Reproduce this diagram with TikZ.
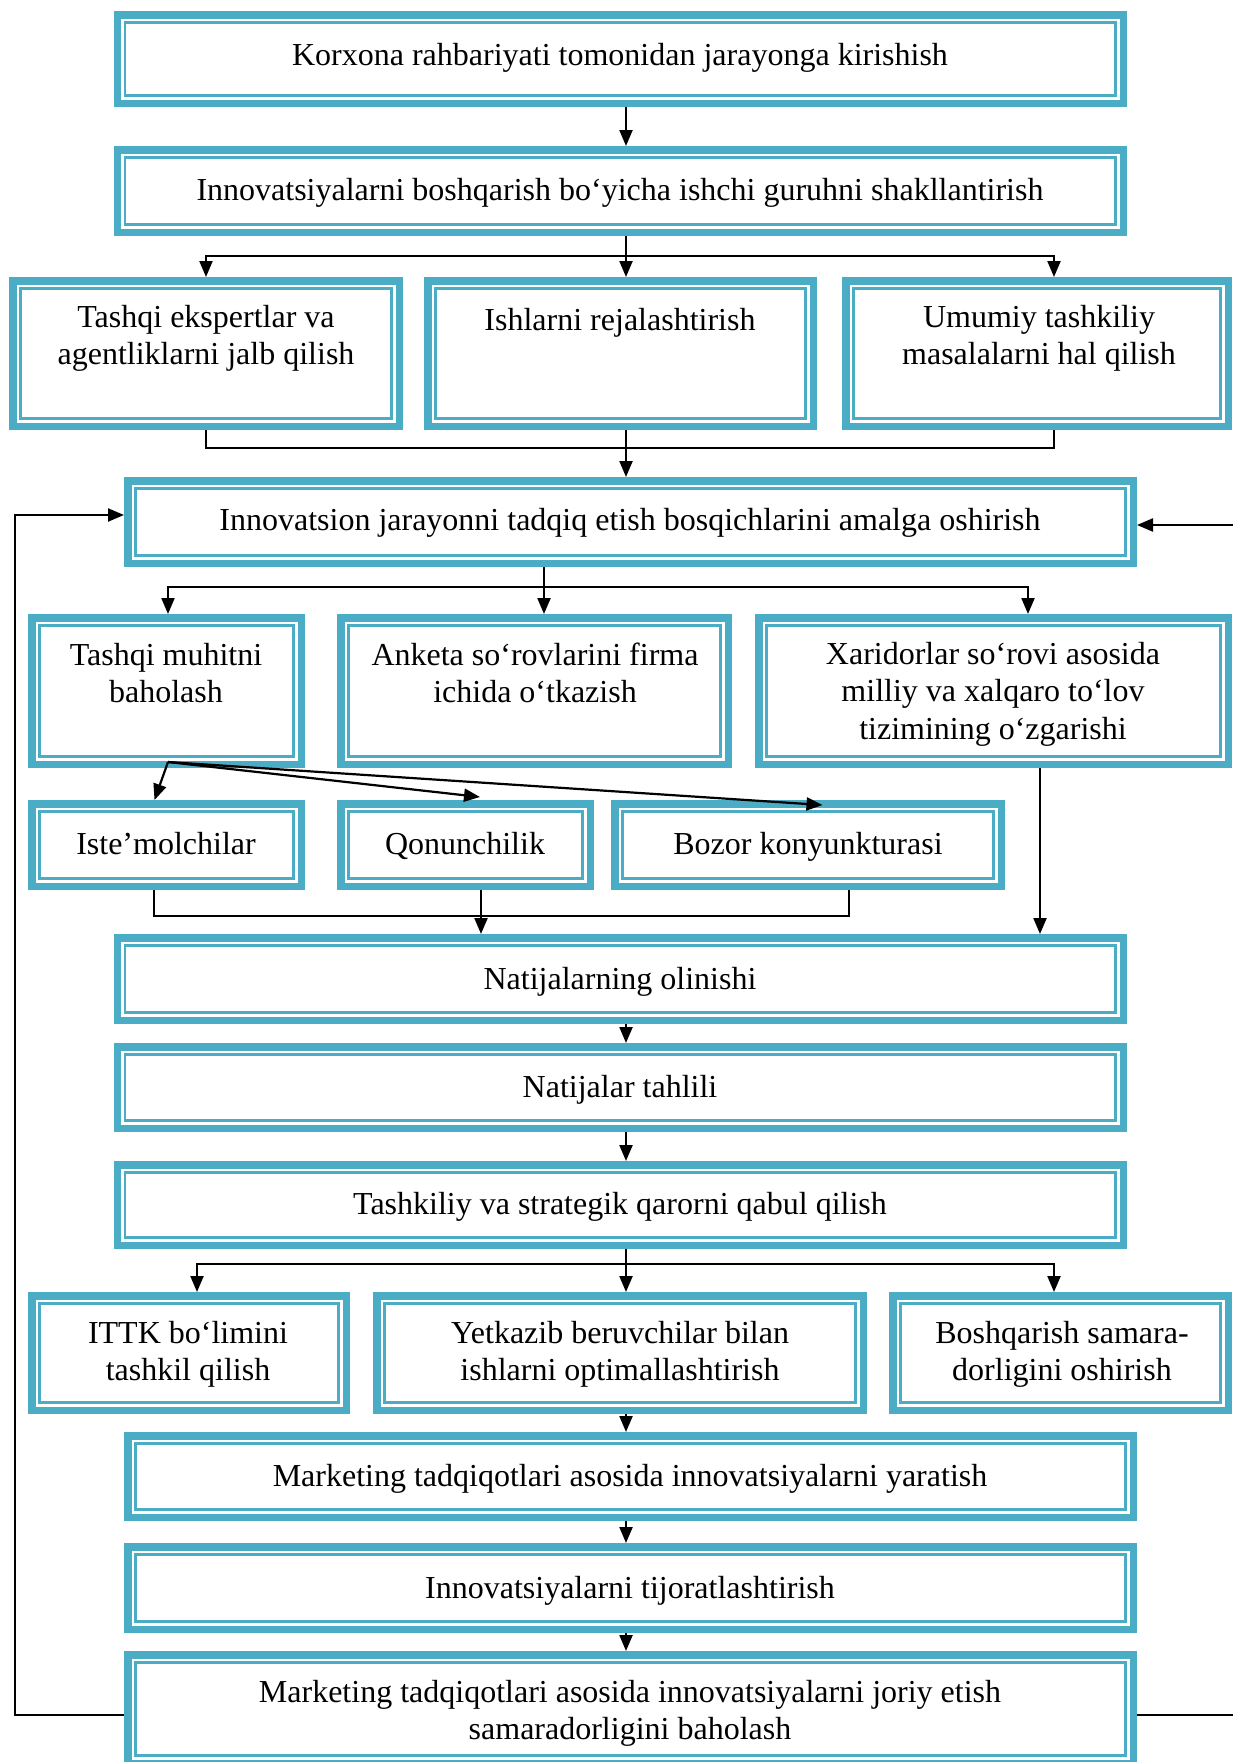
\documentclass[tikz,border=0pt]{standalone}
\usepackage{fontspec}
\setmainfont{Liberation Serif}
\usetikzlibrary{arrows.meta,calc}
\definecolor{boxc}{HTML}{4BACC6}
\tikzset{
  panel/.style={rectangle, draw=boxc, line width=7.5pt, inner sep=0pt, outer sep=3.75pt},
  innerline/.style={draw=boxc, line width=2.5pt},
  txt/.style={align=center, inner sep=0pt, yshift=-3.5pt, font=\fontsize{32}{37.5}\selectfont,
    execute at begin node=\strut, execute at end node=\strut},
  conn/.style={draw=black, line width=2.2pt},
  arr/.style={conn, -{Triangle[length=16pt,width=13pt]}},
}
% double-framed box: name, x1, y1, x2, y2 (outer edges)
\newcommand\panelbox[5]{%
  \node[panel, minimum width={(#4)-(#2)-7.5}, minimum height={(#5)-(#3)-7.5}]
    (#1) at ({((#2)+(#4))/2},{((#3)+(#5))/2}) {};
  \draw[innerline] ([shift={(11.45pt,-11.45pt)}]#1.north west)
    rectangle ([shift={(-11.45pt,11.45pt)}]#1.south east);
}
\begin{document}
\begin{tikzpicture}[x=1pt,y=-1pt]
\useasboundingbox (0,0) rectangle (1233,1762);
\clip (0,0) rectangle (1233,1762);

% boxes
\panelbox{b1}{113.5}{11}{1127}{107}
\panelbox{b2}{113.5}{146}{1127}{236}
\panelbox{b3a}{9}{277}{403}{430}
\panelbox{b3b}{424}{277}{817}{430}
\panelbox{b3c}{842}{277}{1232}{430}
\panelbox{b4}{124}{477}{1137}{567}
\panelbox{b5a}{28}{614}{305}{768}
\panelbox{b5b}{337}{614}{732}{768}
\panelbox{b5c}{755}{614}{1232}{768}
\panelbox{b6a}{28}{800}{305}{890}
\panelbox{b6b}{337}{800}{594}{890}
\panelbox{b6c}{611}{800}{1005}{890}
\panelbox{b7}{113.5}{934}{1127}{1024}
\panelbox{b8}{113.5}{1043}{1127}{1132}
\panelbox{b9}{113.5}{1161}{1127}{1249}
\panelbox{b10a}{28}{1292}{350}{1414}
\panelbox{b10b}{373}{1292}{867}{1414}
\panelbox{b10c}{889}{1292}{1232}{1414}
\panelbox{b11}{124}{1432}{1137}{1521}
\panelbox{b12}{124}{1543}{1137}{1633}
\panelbox{b13}{124}{1651}{1137}{1767}

% texts
\node[txt] (t1) at (620,54) {Korxona rahbariyati tomonidan jarayonga kirishish};
\node[txt] (t2) at (620,189) {Innovatsiyalarni boshqarish bo‘yicha ishchi guruhni shakllantirish};
\node[txt] (t3a) at (206,337) {Tashqi ekspertlar va\\agentliklarni jalb qilish};
\node[txt] (t3b) at (620,319) {Ishlarni rejalashtirish};
\node[txt] (t3c) at (1039,337) {Umumiy tashkiliy\\masalalarni hal qilish};
\node[txt] (t4) at (630,519) {Innovatsion jarayonni tadqiq etish bosqichlarini amalga oshirish};
\node[txt] (t5a) at (166,675) {Tashqi muhitni\\baholash};
\node[txt] (t5b) at (535,675) {Anketa so‘rovlarini firma\\ichida o‘tkazish};
\node[txt] (t5c) at (993,693) {Xaridorlar so‘rovi asosida\\milliy va xalqaro to‘lov\\tizimining o‘zgarishi};
\node[txt] (t6a) at (166,843) {Iste’molchilar};
\node[txt] (t6b) at (465,843) {Qonunchilik};
\node[txt] (t6c) at (808,843) {Bozor konyunkturasi};
\node[txt] (t7) at (620,978) {Natijalarning olinishi};
\node[txt] (t8) at (620,1086) {Natijalar tahlili};
\node[txt] (t9) at (620,1203) {Tashkiliy va strategik qarorni qabul qilish};
\node[txt] (t10a) at (188,1353) {ITTK bo‘limini\\tashkil qilish};
\node[txt] (t10b) at (620,1353) {Yetkazib beruvchilar bilan\\ishlarni optimallashtirish};
\node[txt] (t10c) at (1062,1353) {Boshqarish samara-\\dorligini oshirish};
\node[txt] (t11) at (630,1475) {Marketing tadqiqotlari asosida innovatsiyalarni yaratish};
\node[txt] (t12) at (630,1587) {Innovatsiyalarni tijoratlashtirish};
\node[txt] (t13) at (630,1712) {Marketing tadqiqotlari asosida innovatsiyalarni joriy etish\\samaradorligini baholash};

% column and junction points
\coordinate (m) at (626,0);
\coordinate (ja) at (206,0);
\coordinate (jc) at (1054,0);
\coordinate (s1) at (626,256);
\coordinate (s2) at (626,448);
\coordinate (s3) at (544,587);
\coordinate (da) at (168,0);
\coordinate (dc) at (1028,0);
\coordinate (fan) at (168,762);
\coordinate (fa) at (154,0);
\coordinate (fc) at (849,0);
\coordinate (s4) at (481,916);
\coordinate (g) at (1040,0);
\coordinate (s5) at (626,1264);
\coordinate (ia) at (197,0);
\coordinate (ic) at (1054,0);
\coordinate (fl) at (15,1715);
\coordinate (rl) at (15,515);
\coordinate (fr) at (1233,1715);
\coordinate (rr) at (1233,525);

% connectors
\draw[arr] (b1.south -| m) -- (b2.north -| m);

\draw[arr] (b2.south -| m) -- (b3b.north -| m);
\draw[arr] (s1) -| (b3a.north -| ja);
\draw[arr] (s1) -| (b3c.north -| jc);

\draw[conn] (b3a.south -| ja) -- (ja |- s2) -- (jc |- s2) -- (b3c.south -| jc);
\draw[arr] (b3b.south -| m) -- (b4.north -| m);

\draw[conn] (b4.south -| s3) -- (s3);
\draw[arr] (s3) -- (b5b.north -| s3);
\draw[arr] (s3) -| (b5a.north -| da);
\draw[arr] (s3) -| (b5c.north -| dc);

\draw[arr] (fan) -- ($(b6a.north)+(-12,0)$);
\draw[arr] (fan) -- ($(b6b.north)+(14.5,-3)$);
\draw[arr] (fan) -- ($(b6c.north)+(14.5,5)$);

\draw[conn] (b6a.south -| fa) |- (s4);
\draw[conn] (b6c.south -| fc) |- (s4);
\draw[arr] (b6b.south -| s4) -- (b7.north -| s4);
\draw[arr] (b5c.south -| g) -- (b7.north -| g);

\draw[arr] (b7.south -| m) -- (b8.north -| m);
\draw[arr] (b8.south -| m) -- (b9.north -| m);

\draw[arr] (b9.south -| m) -- (b10b.north -| m);
\draw[arr] (s5) -| (b10a.north -| ia);
\draw[arr] (s5) -| (b10c.north -| ic);

\draw[arr] (b10b.south -| m) -- (b11.north -| m);
\draw[arr] (b11.south -| m) -- (b12.north -| m);
\draw[arr] (b12.south -| m) -- (b13.north -| m);

% feedback loops
\draw[arr] (b13.west |- fl) -- (fl) -- (rl) -- (b4.west |- rl);
\draw[conn] (b13.east |- fr) -- (fr);
\draw[arr] (rr) -- (b4.east |- rr);
\end{tikzpicture}
\end{document}
